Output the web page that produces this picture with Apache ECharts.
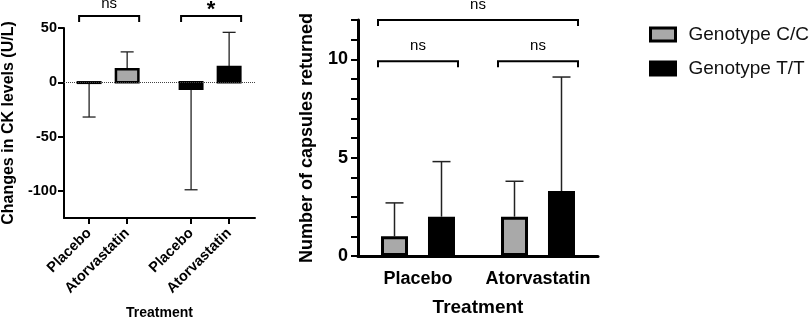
<!DOCTYPE html>
<html>
<head>
<meta charset="utf-8">
<script src="https://cdn.jsdelivr.net/npm/echarts@6/dist/echarts.min.js"></script>
<style>
html,body{margin:0;padding:0;background:#fff}
#main{width:809px;height:319px}
</style>
</head>
<body>
<div id="main"></div>
<script>
// left panel - change in CK levels
var ckCategories = ['Placebo', 'Atorvastatin', 'Placebo', 'Atorvastatin']
var ckGroup = [0, 0, 1, 1]            // 0 = C/C , 1 = T/T
var ckMeans = [-0.5, 12, -6, 14]
var ckErrEnds = [-32, 28, -99, 46]
var ckTicks = [-100, -50, 0, 50]
var ckBrackets = [[0, 1, 61, 'ns'], [2, 3, 61, '*']]

// right panel - capsules returned
var capCategories = ['Placebo', 'Atorvastatin']
var genotypes = ['Genotype C/C', 'Genotype T/T']
var capCC = [1, 2]
var capTT = [2, 3.3]
var capCCErr = [2.7, 3.8]
var capTTErr = [4.8, 9.1]
var capTicks = [0, 5, 10]
var capBrackets = [[0, 0, 9.9, 'ns'], [1, 1, 9.9, 'ns'], [0, 1, 12, 'ns']]

var colors = ['#a9a9a9', '#000000']
var FONT = '"Liberation Sans", Arial, sans-serif'
var GROUP_GAP = 0.68
var ckPos = ckCategories.map(function (c, i) { return i + ckGroup[i] * GROUP_GAP })

function posIndex(v) {
    for (var i = 0; i < ckPos.length; i++) {
        if (Math.abs(ckPos[i] - v) < 1e-6) return i
    }
    return -1
}

var chart = echarts.init(document.getElementById('main'))

// bars + error bars of the left panel
function ckBarItem(params, api) {
    var x = api.value(0), m = api.value(1), e = api.value(2), g = api.value(3)
    var top = api.coord([x, m])
    var base = api.coord([x, 0])
    var end = api.coord([x, e])
    var w = api.size([0.59, 0])[0]
    return {
        type: 'group',
        children: [
            {type: 'line', shape: {x1: top[0], y1: top[1], x2: end[0], y2: end[1]}, style: {stroke: '#222', lineWidth: 1.3}},
            {type: 'line', shape: {x1: end[0] - 6.5, y1: end[1], x2: end[0] + 6.5, y2: end[1]}, style: {stroke: '#222', lineWidth: 1.3}},
            {type: 'rect', shape: {x: top[0] - w / 2, y: Math.min(top[1], base[1]), width: w, height: Math.abs(base[1] - top[1])},
                style: {fill: colors[g], stroke: '#000', lineWidth: 2.5}}
        ]
    }
}

// error bars of the right panel (offset matches barWidth + gap)
function capErrItem(params, api) {
    var c = api.value(0), m = api.value(1), e = api.value(2), g = api.value(3)
    var off = (g === 0 ? -1 : 1) * 23.5
    var top = api.coord([c, m])
    var end = api.coord([c, e])
    var x = top[0] + off
    return {
        type: 'group',
        children: [
            {type: 'line', shape: {x1: x, y1: top[1], x2: x, y2: end[1]}, style: {stroke: '#222', lineWidth: 1.5}},
            {type: 'line', shape: {x1: x - 9, y1: end[1], x2: x + 9, y2: end[1]}, style: {stroke: '#222', lineWidth: 1.5}}
        ]
    }
}

function bracketItem(offL, offR, labels, fontSize, drop, lift) {
    return function (params, api) {
        var y = api.value(2)
        var a = api.coord([api.value(0), y])
        var b = api.coord([api.value(1), y])
        var x1 = a[0] + offL, x2 = b[0] + offR, yy = a[1]
        var lab = labels[params.dataIndex][3]
        var star = lab === '*'
        return {
            type: 'group',
            children: [
                {type: 'polyline', shape: {points: [[x1, yy + drop], [x1, yy], [x2, yy], [x2, yy + drop]]},
                    style: {stroke: '#000', lineWidth: 2, fill: null}},
                {type: 'text', style: {text: lab, x: (x1 + x2) / 2, y: yy - (star ? 6 : lift), align: 'center', verticalAlign: 'middle',
                    fontSize: star ? 22 : fontSize, fontWeight: star ? 'bold' : 'normal', fontFamily: FONT, fill: '#000'}}
            ]
        }
    }
}

var option = {
    animation: false,
    backgroundColor: '#fff',
    textStyle: {fontFamily: FONT},
    legend: {
        orient: 'vertical',
        left: 644,
        top: 20,
        icon: 'rect',
        itemWidth: 25,
        itemHeight: 13,
        itemGap: 15,
        textStyle: {fontSize: 19, color: '#111', fontFamily: FONT, padding: [0, 0, 0, 8]},
        data: [
            {name: genotypes[0], itemStyle: {color: colors[0], borderColor: '#000', borderWidth: 3}},
            {name: genotypes[1], itemStyle: {color: colors[1], borderColor: '#000', borderWidth: 3}}
        ]
    },
    grid: [
        {left: 64, top: 28, width: 191, height: 190, outerBoundsMode: 'none'},
        {left: 358, top: 20, width: 240, height: 236, outerBoundsMode: 'none'}
    ],
    xAxis: [
        {
            gridIndex: 0, type: 'value', min: -0.66, max: 4.36,
            splitLine: {show: false},
            axisLine: {show: true, onZero: false, lineStyle: {color: '#000', width: 2}},
            axisTick: {show: true, length: 6, customValues: ckPos, lineStyle: {color: '#000', width: 2}},
            axisLabel: {
                customValues: ckPos, rotate: 45, margin: 13,
                fontSize: 14.5, fontWeight: 'bold', color: '#000', fontFamily: FONT,
                formatter: function (v) { var i = posIndex(v); return i < 0 ? '' : ckCategories[i] }
            },
            name: 'Treatment', nameLocation: 'middle', nameGap: 88, nameMoveOverlap: false,
            nameTextStyle: {fontSize: 14, fontWeight: 'bold', color: '#000', fontFamily: FONT}
        },
        {
            gridIndex: 1, type: 'category', data: capCategories,
            axisLine: {lineStyle: {color: '#000', width: 3}},
            axisTick: {alignWithLabel: true, length: 7, lineStyle: {color: '#000', width: 2.5}},
            axisLabel: {interval: 0, hideOverlap: false, margin: 14, fontSize: 18, fontWeight: 'bold', color: '#000', fontFamily: FONT},
            name: 'Treatment', nameLocation: 'middle', nameGap: 42, nameMoveOverlap: false,
            nameTextStyle: {fontSize: 19, fontWeight: 'bold', color: '#000', fontFamily: FONT}
        }
    ],
    yAxis: [
        {
            gridIndex: 0, type: 'value', min: -125, max: 50, interval: 25,
            splitLine: {show: false},
            axisLine: {show: true, onZero: false, lineStyle: {color: '#000', width: 2}},
            axisTick: {show: true, length: 6, customValues: ckTicks, lineStyle: {color: '#000', width: 2}},
            axisLabel: {customValues: ckTicks, margin: 7, fontSize: 14.5, fontWeight: 'bold', color: '#000', fontFamily: FONT},
            name: 'Changes in CK levels (U/L)', nameLocation: 'middle', nameGap: 47, nameRotate: 90, nameMoveOverlap: false,
            nameTextStyle: {fontSize: 16, fontWeight: 'bold', color: '#000', fontFamily: FONT}
        },
        {
            gridIndex: 1, type: 'value', min: 0, max: 12, interval: 1,
            splitLine: {show: false},
            axisLine: {show: true, lineStyle: {color: '#000', width: 3}},
            axisTick: {show: true, length: 7, lineStyle: {color: '#000', width: 2}},
            axisLabel: {customValues: capTicks, margin: 10, fontSize: 18, fontWeight: 'bold', color: '#000', fontFamily: FONT},
            name: 'Number of capsules returned', nameLocation: 'middle', nameGap: 42, nameRotate: 90, nameMoveOverlap: false,
            nameTextStyle: {fontSize: 18, fontWeight: 'bold', color: '#000', fontFamily: FONT}
        }
    ],
    series: [
        {
            name: 'ck', type: 'custom', xAxisIndex: 0, yAxisIndex: 0,
            renderItem: ckBarItem,
            data: ckPos.map(function (p, i) { return [p, ckMeans[i], ckErrEnds[i], ckGroup[i]] }),
            markLine: {
                silent: true, symbol: ['none', 'none'], label: {show: false},
                lineStyle: {type: 'dotted', color: '#444', width: 1},
                data: [{yAxis: 0}]
            },
            z: 3
        },
        {
            name: 'ckBrackets', type: 'custom', xAxisIndex: 0, yAxisIndex: 0,
            renderItem: bracketItem(-10, 12, ckBrackets, 15, 6, 12),
            data: ckBrackets.map(function (b) { return [ckPos[b[0]], ckPos[b[1]], b[2]] }),
            clip: false
        },
        {
            name: genotypes[0], type: 'bar', xAxisIndex: 1, yAxisIndex: 1,
            data: capCC, barWidth: 27, barGap: '74%',
            itemStyle: {color: colors[0], borderColor: '#000', borderWidth: 3},
            z: 3
        },
        {
            name: genotypes[1], type: 'bar', xAxisIndex: 1, yAxisIndex: 1,
            data: capTT, barWidth: 27, barGap: '74%',
            itemStyle: {color: colors[1], borderColor: '#000', borderWidth: 3},
            z: 3
        },
        {
            name: 'capErr', type: 'custom', xAxisIndex: 1, yAxisIndex: 1,
            renderItem: capErrItem,
            data: capCC.map(function (v, i) { return [i, v, capCCErr[i], 0] })
                .concat(capTT.map(function (v, i) { return [i, v, capTTErr[i], 1] })),
            z: 2
        },
        {
            name: 'capBrackets', type: 'custom', xAxisIndex: 1, yAxisIndex: 1,
            renderItem: bracketItem(-40, 40, capBrackets, 15, 6, 15),
            data: capBrackets.map(function (b) { return [b[0], b[1], b[2]] }),
            clip: false
        }
    ]
}
chart.setOption(option)
</script>
</body>
</html>
